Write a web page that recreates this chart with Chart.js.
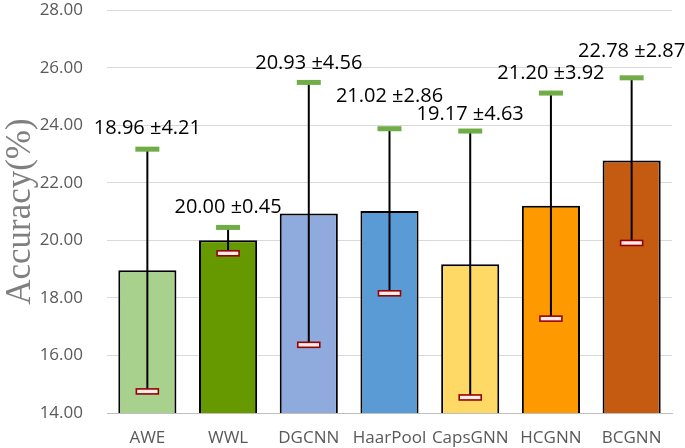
<!DOCTYPE html>
<html><head><meta charset="utf-8">
<script src="https://cdn.jsdelivr.net/npm/chart.js@4/dist/chart.umd.min.js"></script>
<style>html,body{margin:0;padding:0;background:#fff}#wrap{width:685px;height:448px}</style>
</head><body><div id="wrap"><canvas id="c" width="685" height="448"></canvas></div>
<script>
const categories = ['AWE','WWL','DGCNN','HaarPool','CapsGNN','HCGNN','BCGNN'];
const meanAcc = [18.96, 20.00, 20.93, 21.02, 19.17, 21.20, 22.78];
const stdAcc = [4.21, 0.45, 4.56, 2.86, 4.63, 3.92, 2.87];
const barColors = ['#A9D18E','#669900','#8FAADC','#5B9BD5','#FFD966','#FF9900','#C55A11'];
const labelGap = [21, 20, 19, 32, 17, 20, 27];
const yTicks = [14,16,18,20,22,24,26,28];

const errPlugin = {
  id: 'errbars',
  afterDatasetsDraw(chart) {
    const ctx = chart.ctx;
    const meta = chart.getDatasetMeta(0);
    const y = chart.scales.y;
    ctx.save();
    meta.data.forEach((bar, i) => {
      const x = bar.x;
      const yt = y.getPixelForValue(meanAcc[i] + stdAcc[i]);
      const yb = y.getPixelForValue(meanAcc[i] - stdAcc[i]);
      ctx.strokeStyle = '#000';
      ctx.lineWidth = 2;
      ctx.beginPath(); ctx.moveTo(x, yt); ctx.lineTo(x, yb); ctx.stroke();
      ctx.fillStyle = '#70AD47';
      ctx.fillRect(x - 12, yt - 2.5, 24, 5);
      ctx.fillStyle = '#FDECEC';
      ctx.strokeStyle = '#990000';
      ctx.lineWidth = 1.6;
      ctx.fillRect(x - 11, yb - 2.5, 22, 5);
      ctx.strokeRect(x - 11, yb - 2.5, 22, 5);
      ctx.fillStyle = '#000';
      ctx.font = '20px "Open Sans", "Noto Sans", sans-serif';
      ctx.textAlign = 'center';
      ctx.textBaseline = 'middle';
      ctx.fillText(meanAcc[i].toFixed(2) + ' \u00B1' + stdAcc[i].toFixed(2), x, yt - labelGap[i]);
    });
    ctx.restore();
  }
};

new Chart(document.getElementById('c'), {
  type: 'bar',
  data: {
    labels: categories,
    datasets: [{
      data: meanAcc,
      backgroundColor: barColors,
      borderColor: '#000',
      borderWidth: {top: 2, left: 2, right: 2, bottom: 0},
      borderSkipped: false,
      categoryPercentage: 1,
      barPercentage: 0.72
    }]
  },
  options: {
    responsive: false,
    animation: false,
    layout: {padding: {top: 1, right: 13, bottom: 0, left: 0}},
    plugins: {legend: {display: false}, tooltip: {enabled: false}},
    scales: {
      x: {
        grid: {display: false},
        border: {display: true, color: '#BFBFBF', width: 1},
        ticks: {color: '#595959', font: {family: '"Open Sans", "Noto Sans", sans-serif', size: 17}, padding: 7,
          maxRotation: 0, minRotation: 0, autoSkip: false},
        afterFit(s) { s.height = 35; }
      },
      y: {
        min: 14, max: 28,
        afterBuildTicks(s) { s.ticks = yTicks.map(v => ({value: v})); },
        grid: {color: '#D9D9D9', lineWidth: 1, drawTicks: true, tickLength: 24, tickColor: 'rgba(0,0,0,0)'},
        border: {display: false},
        ticks: {color: '#595959', font: {family: '"Open Sans", "Noto Sans", sans-serif', size: 17}, padding: 0,
          callback: v => Number(v).toFixed(2)},
        title: {display: true, text: 'Accuracy(%)', color: '#7F7F7F',
          font: {family: '"Liberation Serif", "DejaVu Serif", serif', size: 35}, padding: 0},
        afterFit(s) { s.width = 107; }
      }
    }
  },
  plugins: [errPlugin]
});
</script></body></html>
